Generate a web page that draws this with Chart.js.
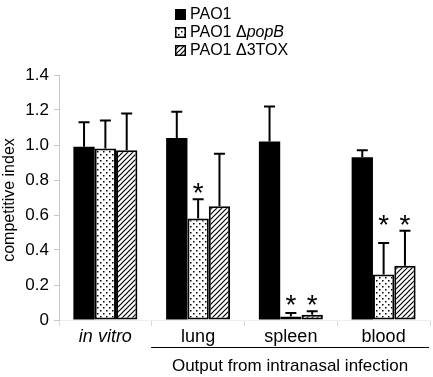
<!DOCTYPE html>
<html>
<head>
<meta charset="utf-8">
<script src="https://cdn.jsdelivr.net/npm/chart.js@4/dist/chart.umd.min.js"></script>
<style>
  html, body { margin: 0; padding: 0; background: #fff; }
  #wrap { width: 433px; height: 377px; }
</style>
</head>
<body>
<div id="wrap"><canvas id="chart" width="433" height="377"></canvas></div>
<script>
'use strict';

// data
const categories = ['in vitro', 'lung', 'spleen', 'blood'];
const pao1 = [0.99, 1.04, 1.02, 0.93];
const pao1Err = [0.14, 0.15, 0.20, 0.04];
const popB = [0.98, 0.58, 0.02, 0.26];
const popBErr = [0.16, 0.11, 0.02, 0.18];
const tox = [0.97, 0.65, 0.03, 0.31];
const toxErr = [0.21, 0.30, 0.02, 0.20];
const popBStar = [false, true, true, true];
const toxStar = [false, false, true, true];
const yTicks = [0, 0.2, 0.4, 0.6, 0.8, 1, 1.2, 1.4];

const FONT = '"Liberation Sans", Arial, sans-serif';

function dotPattern() {
    const c = document.createElement('canvas');
    c.width = 6; c.height = 6;
    const g = c.getContext('2d');
    g.fillStyle = '#fff';
    g.fillRect(0, 0, 6, 6);
    g.fillStyle = '#000';
    g.fillRect(1, 1, 1.5, 1.5);
    g.fillRect(4, 4, 1.5, 1.5);
    return g.createPattern(c, 'repeat');
}

function hatchPattern() {
    const c = document.createElement('canvas');
    c.width = 5; c.height = 5;
    const g = c.getContext('2d');
    g.fillStyle = '#fff';
    g.fillRect(0, 0, 5, 5);
    g.strokeStyle = '#000';
    g.lineWidth = 1.2;
    g.beginPath();
    g.moveTo(-1, 6); g.lineTo(6, -1);
    g.moveTo(-1, 1); g.lineTo(1, -1);
    g.moveTo(4, 6); g.lineTo(6, 4);
    g.stroke();
    return g.createPattern(c, 'repeat');
}

const dots = dotPattern();
const hatch = hatchPattern();

// upper error bars, asterisks, legend, y title and the bracket label
const extras = {
    id: 'extras',
    afterDatasetsDraw(chart) {
        const ctx = chart.ctx;
        const y = chart.scales.y;
        const errs = [pao1Err, popBErr, toxErr];
        ctx.save();
        ctx.strokeStyle = '#000';
        ctx.lineWidth = 2;
        chart.data.datasets.forEach((ds, di) => {
            const meta = chart.getDatasetMeta(di);
            meta.data.forEach((bar, i) => {
                const top = y.getPixelForValue(ds.data[i] + errs[di][i]);
                ctx.beginPath();
                ctx.moveTo(bar.x, bar.y);
                ctx.lineTo(bar.x, top);
                ctx.moveTo(bar.x - 5.5, top);
                ctx.lineTo(bar.x + 5.5, top);
                ctx.stroke();
            });
        });

        // asterisks: level with the highest starred error bar of the group
        ctx.fillStyle = '#000';
        ctx.font = '28px ' + FONT;
        ctx.textAlign = 'center';
        ctx.textBaseline = 'alphabetic';
        categories.forEach((c, i) => {
            let level = null;
            if (popBStar[i]) level = popB[i] + popBErr[i];
            if (toxStar[i]) level = Math.max(level || 0, tox[i] + toxErr[i]);
            if (level === null) return;
            const py = y.getPixelForValue(level) - 14;
            if (popBStar[i]) ctx.fillText('*', chart.getDatasetMeta(1).data[i].x, py + 17);
            if (toxStar[i]) ctx.fillText('*', chart.getDatasetMeta(2).data[i].x, py + 17);
        });

        // legend
        const lx = 175;
        const rows = [
            { fill: '#000', parts: [['PAO1 ', 'normal']] },
            { fill: dots, parts: [['PAO1 \u0394', 'normal'], ['popB', 'italic']] },
            { fill: hatch, parts: [['PAO1 \u03943TOX', 'normal']] }
        ];
        ctx.textAlign = 'left';
        ctx.textBaseline = 'middle';
        rows.forEach((r, k) => {
            const cy = 14 + k * 18;
            ctx.fillStyle = r.fill;
            ctx.fillRect(lx, cy - 5, 11, 11);
            ctx.lineWidth = 1.5;
            ctx.strokeRect(lx + 0.75, cy - 4.25, 9.5, 9.5);
            ctx.fillStyle = '#000';
            let tx = lx + 15;
            r.parts.forEach(p => {
                ctx.font = p[1] + ' 16px ' + FONT;
                ctx.fillText(p[0], tx, cy + 1);
                tx += ctx.measureText(p[0]).width;
            });
        });

        // y title, centred a little lower than the plot area like the original
        ctx.save();
        ctx.translate(10, 200);
        ctx.rotate(-Math.PI / 2);
        ctx.textAlign = 'center';
        ctx.textBaseline = 'middle';
        ctx.font = '16px ' + FONT;
        ctx.fillText('competitive index', 0, 0);
        ctx.restore();

        // bracket under the in vivo groups
        const x = chart.scales.x;
        const x0 = x.getPixelForValue(1) - 47;
        const x1 = x.right - 1;
        ctx.lineWidth = 1;
        ctx.beginPath();
        ctx.moveTo(x0, 347.5);
        ctx.lineTo(x1, 347.5);
        ctx.stroke();
        ctx.font = '17px ' + FONT;
        ctx.textAlign = 'center';
        ctx.textBaseline = 'middle';
        ctx.fillText('Output from intranasal infection', (x0 + x1) / 2, 366);
        ctx.restore();
    }
};

new Chart(document.getElementById('chart'), {
    type: 'bar',
    data: {
        labels: categories,
        datasets: [
            { label: 'PAO1', data: pao1, backgroundColor: '#000', borderColor: '#000', borderWidth: 0 },
            { label: 'PAO1 \u0394popB', data: popB, backgroundColor: dots, borderColor: '#000', borderWidth: 2, borderSkipped: false },
            { label: 'PAO1 \u03943TOX', data: tox, backgroundColor: hatch, borderColor: '#000', borderWidth: 2, borderSkipped: false }
        ]
    },
    options: {
        responsive: false,
        animation: false,
        categoryPercentage: 0.69,
        barPercentage: 1,
        layout: { padding: { top: 75, right: 3, left: 0, bottom: 0 } },
        plugins: {
            legend: { display: false },
            tooltip: { enabled: false }
        },
        scales: {
            x: {
                grid: { display: true, drawOnChartArea: false, offset: true, tickLength: 6, color: '#d8d8d8' },
                border: { display: true, color: '#eeeeee' },
                ticks: {
                    color: '#000',
                    padding: 0,
                    font: (c) => ({ family: FONT, size: 18, style: c.index === 0 ? 'italic' : 'normal' })
                },
                afterFit: (s) => { s.height = 57; }
            },
            y: {
                min: 0,
                max: 1.4,
                afterBuildTicks: (s) => { s.ticks = yTicks.map(v => ({ value: v })); },
                grid: { display: true, drawOnChartArea: false, tickLength: 5, color: '#c8c8c8' },
                border: { display: true, color: '#c8c8c8' },
                ticks: { color: '#000', padding: 5, font: { family: FONT, size: 17 } },
                title: { display: false },
                afterFit: (s) => { s.width = 59; }
            }
        }
    },
    plugins: [extras]
});
</script>
</body>
</html>
